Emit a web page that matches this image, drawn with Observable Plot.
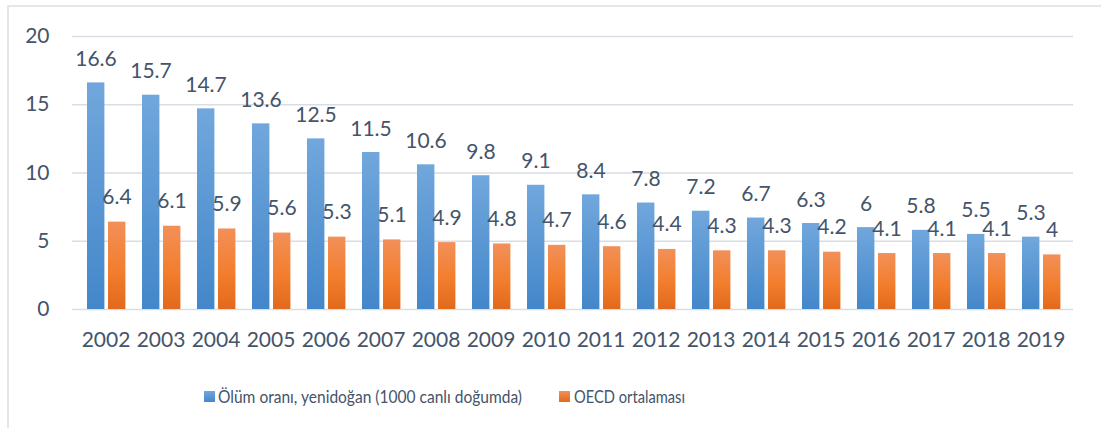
<!DOCTYPE html>
<html><head><meta charset="utf-8">
<script src="https://cdn.jsdelivr.net/npm/d3@7"></script>
<script src="https://cdn.jsdelivr.net/npm/@observablehq/plot@0.6"></script>
<style>
body{margin:0;background:#fff;font-family:Lato,"Open Sans",sans-serif;}
#wrap{position:relative;width:1101px;height:428px;overflow:hidden;}
#frame{position:absolute;left:7px;top:5px;width:1200px;height:500px;border-left:2px solid #E3E7EC;border-top:2px solid #E3E7EC;pointer-events:none;}
#legend{position:relative;height:58px;color:#44546A;font-size:18px;}
.sw{position:absolute;width:11px;height:11px;}
.lt{position:absolute;white-space:nowrap;line-height:20px;display:inline-block;transform-origin:0 50%;}
</style></head><body>
<div id="wrap"><div id="chart"></div><div id="legend"></div><div id="frame"></div></div>
<script>
const years = ["2002","2003","2004","2005","2006","2007","2008","2009","2010","2011","2012","2013","2014","2015","2016","2017","2018","2019"];
const neonatal = [16.6,15.7,14.7,13.6,12.5,11.5,10.6,9.8,9.1,8.4,7.8,7.2,6.7,6.3,6,5.8,5.5,5.3];
const oecd = [6.4,6.1,5.9,5.6,5.3,5.1,4.9,4.8,4.7,4.6,4.4,4.3,4.3,4.2,4.1,4.1,4.1,4];
const seriesNames = ["Ölüm oranı, yenidoğan (1000 canlı doğumda)", "OECD ortalaması"];
const yTicks = [0,5,10,15,20];

const blueData = years.map((y,i)=>({year:y, value:neonatal[i]}));
const orangeData = years.map((y,i)=>({year:y, value:oecd[i]}));

function gradients(){
  const defs = d3.create("svg:defs");
  const g1 = defs.append("linearGradient").attr("id","gBlue").attr("x1",0).attr("y1",0).attr("x2",0).attr("y2",1);
  g1.append("stop").attr("offset","0%").attr("stop-color","#71A7DC");
  g1.append("stop").attr("offset","100%").attr("stop-color","#4387CA");
  const g2 = defs.append("linearGradient").attr("id","gOrange").attr("x1",0).attr("y1",0).attr("x2",0).attr("y2",1);
  g2.append("stop").attr("offset","0%").attr("stop-color","#F29059");
  g2.append("stop").attr("offset","55%").attr("stop-color","#F27E2E");
  g2.append("stop").attr("offset","100%").attr("stop-color","#E2691B");
  return defs.node();
}

const txt = "#44546A";
const chart = Plot.plot({
  width: 1101, height: 370,
  marginLeft: 72, marginRight: 28, marginTop: 36, marginBottom: 61,
  style: {fontFamily: "Lato, 'Open Sans', sans-serif", fontSize: "20px", color: txt, background: "transparent", overflow: "visible"},
  x: {domain: years, padding: 0, label: null},
  y: {domain: [0, 20], label: null},
  marks: [
    gradients,
    Plot.gridY(yTicks, {stroke: "#D9DEE5", strokeOpacity: 1, strokeWidth: 1.5}),
    Plot.barY(blueData, {x: "year", y: "value", fill: "url(#gBlue)", insetLeft: 9, insetRight: 28.6}),
    Plot.barY(orangeData, {x: "year", y: "value", fill: "url(#gOrange)", insetLeft: 30, insetRight: 7.6}),
    Plot.text(blueData, {x: "year", y: "value", text: d => String(d.value), dx: -10, dy: -17, lineAnchor: "bottom", fontSize: 21, fill: txt}),
    Plot.text(orangeData, {x: "year", y: "value", text: d => String(d.value), dx: 11, dy: -18, lineAnchor: "bottom", fontSize: 21, fill: txt}),
    Plot.axisY({ticks: yTicks, tickSize: 0, tickPadding: 23, fontSize: 21, label: null}),
    Plot.axisX({tickSize: 0, tickPadding: 23, fontSize: 21, label: null})
  ]
});
document.getElementById("chart").appendChild(chart);

const legend = document.getElementById("legend");
const items = [
  {name: seriesNames[0], color: "linear-gradient(#71A7DC,#4387CA)", sx: 204, tx: 218, w: 304},
  {name: seriesNames[1], color: "linear-gradient(#F29059,#E2691B)", sx: 559, tx: 574, w: 111}
];
for (const it of items) {
  const s = document.createElement("div"); s.className = "sw";
  s.style.left = it.sx + "px"; s.style.top = "21px"; s.style.background = it.color;
  legend.appendChild(s);
  const t = document.createElement("span"); t.className = "lt";
  t.style.left = it.tx + "px"; t.style.top = "16px"; t.textContent = it.name;
  legend.appendChild(t);
  const w = t.getBoundingClientRect().width;
  if (w > 0) t.style.transform = `scaleX(${it.w / w})`;
}
</script>
</body></html>
